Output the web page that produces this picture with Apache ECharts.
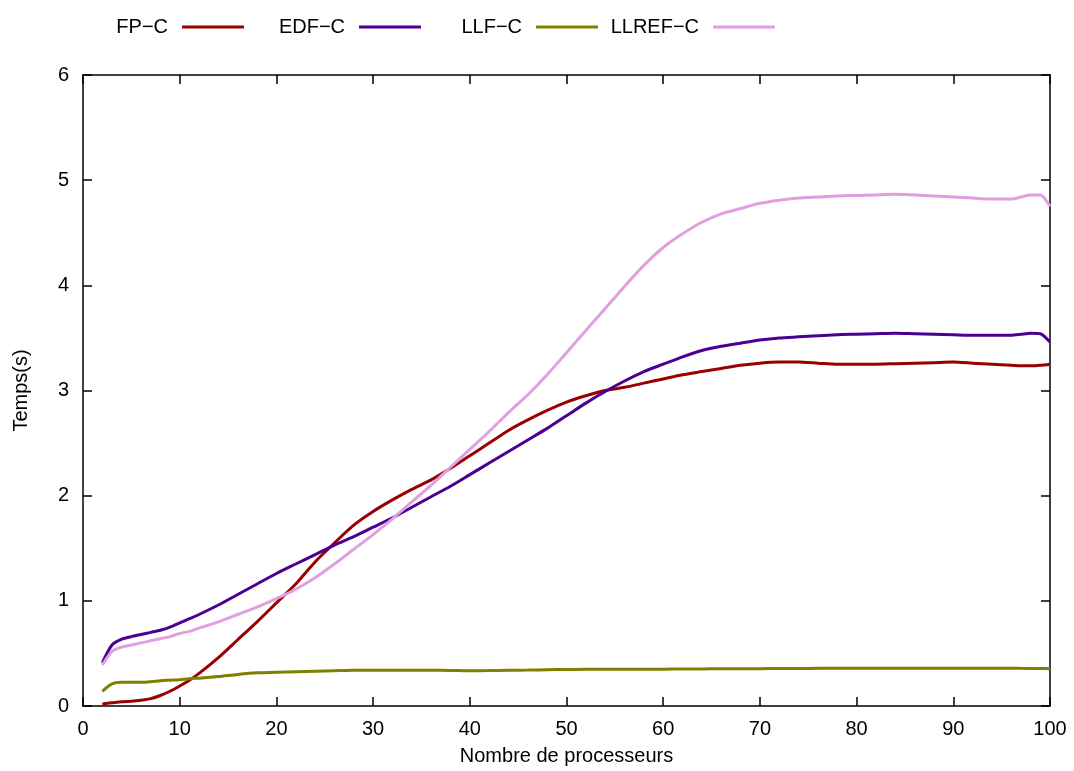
<!DOCTYPE html>
<html>
<head>
<meta charset="utf-8">
<script src="https://cdn.jsdelivr.net/npm/echarts@6/dist/echarts.min.js"></script>
<style>html,body{margin:0;padding:0;background:#fff;}#c{width:1074px;height:771px;}</style>
</head>
<body>
<div id="c"></div>
<script>
const procs = [2,3,4,5,6,7,8,9,10,11,12,14,16,18,20,22,24,26,28,30,32,34,36,38,40,42,44,46,48,50,52,54,56,58,60,62,64,66,68,70,72,74,76,78,80,82,84,86,88,90,92,94,96,97,98,99,100];
const fpC = [0.02,0.03,0.04,0.045,0.055,0.07,0.10,0.14,0.19,0.245,0.31,0.46,0.63,0.80,0.98,1.16,1.37,1.55,1.72,1.85,1.96,2.06,2.15,2.26,2.38,2.50,2.62,2.72,2.81,2.89,2.95,3.00,3.03,3.07,3.11,3.15,3.18,3.21,3.24,3.26,3.27,3.27,3.26,3.25,3.25,3.25,3.255,3.26,3.265,3.27,3.26,3.25,3.24,3.235,3.235,3.24,3.25];
const edfC = [0.41,0.58,0.635,0.66,0.68,0.70,0.72,0.75,0.79,0.83,0.87,0.96,1.06,1.16,1.26,1.35,1.44,1.53,1.61,1.70,1.79,1.89,1.99,2.09,2.20,2.31,2.42,2.53,2.64,2.76,2.88,2.99,3.09,3.18,3.25,3.32,3.38,3.42,3.45,3.48,3.50,3.51,3.52,3.53,3.535,3.54,3.545,3.54,3.535,3.53,3.525,3.525,3.525,3.535,3.545,3.54,3.46];
const llfC = [0.14,0.21,0.225,0.225,0.225,0.23,0.24,0.245,0.25,0.26,0.265,0.28,0.30,0.315,0.32,0.325,0.33,0.335,0.34,0.34,0.34,0.34,0.34,0.338,0.335,0.337,0.34,0.342,0.345,0.347,0.35,0.35,0.35,0.35,0.35,0.352,0.353,0.354,0.355,0.355,0.356,0.357,0.358,0.359,0.36,0.36,0.36,0.36,0.36,0.36,0.36,0.36,0.36,0.358,0.357,0.356,0.355];
const llrefC = [0.39,0.52,0.56,0.58,0.60,0.62,0.64,0.66,0.69,0.71,0.74,0.80,0.87,0.94,1.02,1.11,1.22,1.35,1.49,1.63,1.78,1.94,2.10,2.27,2.44,2.61,2.79,2.96,3.15,3.36,3.57,3.78,3.99,4.19,4.36,4.49,4.60,4.68,4.73,4.78,4.81,4.83,4.84,4.85,4.855,4.86,4.865,4.86,4.85,4.84,4.83,4.82,4.82,4.84,4.86,4.86,4.75];
const seriesNames = ['FP\u2212C','EDF\u2212C','LLF\u2212C','LLREF\u2212C'];
const seriesColors = ['#990000','#4b0092','#808000','#e0a0e0'];
const xTicks = {min:0, max:100, interval:10};
const yTicks = {min:0, max:6, interval:1};

const FONT = 'Liberation Sans, Arial, sans-serif';
const allData = [fpC, edfC, llfC, llrefC];
const legendRight = [825, 648, 471, 294];

const axisLine = {show:true, onZero:false, lineStyle:{color:'#000', width:1.5}};
const tick = {show:true, inside:true, length:9, lineStyle:{color:'#000', width:1.5}};

const option = {
  animation:false,
  backgroundColor:'#fff',
  textStyle:{fontFamily:FONT},
  grid:{left:83, right:24, top:75, bottom:63, containLabel:false},
  legend: seriesNames.map((n,i)=>({
    data:[n], right:legendRight[i], top:12, orient:'horizontal', align:'right',
    icon:'rect', itemWidth:62, itemHeight:3,
    textStyle:{fontFamily:FONT, fontSize:20, color:'#000', padding:[0,9,0,0]},
    selectedMode:false
  })),
  xAxis:[
    {type:'value', min:xTicks.min, max:xTicks.max, interval:xTicks.interval, position:'bottom',
     name:'Nombre de processeurs', nameLocation:'middle', nameGap:40,
     nameTextStyle:{fontFamily:FONT, fontSize:20, color:'#000'},
     axisLine:axisLine, axisTick:tick, splitLine:{show:false},
     axisLabel:{fontFamily:FONT, fontSize:20, color:'#000', margin:13}},
    {type:'value', min:xTicks.min, max:xTicks.max, interval:xTicks.interval, position:'top',
     axisLine:axisLine, axisTick:tick, splitLine:{show:false}, axisLabel:{show:false}}
  ],
  yAxis:[
    {type:'value', min:yTicks.min, max:yTicks.max, interval:yTicks.interval, position:'left',
     name:'Temps(s)', nameLocation:'middle', nameGap:52,
     nameTextStyle:{fontFamily:FONT, fontSize:20, color:'#000'},
     axisLine:axisLine, axisTick:tick, splitLine:{show:false},
     axisLabel:{fontFamily:FONT, fontSize:20, color:'#000', margin:14}},
    {type:'value', min:yTicks.min, max:yTicks.max, interval:yTicks.interval, position:'right',
     axisLine:axisLine, axisTick:tick, splitLine:{show:false}, axisLabel:{show:false}}
  ],
  series: seriesNames.map((n,i)=>({
    name:n, type:'line', xAxisIndex:0, yAxisIndex:0,
    data: procs.map((p,k)=>[p, allData[i][k]]),
    showSymbol:false, symbol:'none', smooth:0.25,
    lineStyle:{color:seriesColors[i], width:3},
    itemStyle:{color:seriesColors[i]},
    z: 2
  }))
};
const chart = echarts.init(document.getElementById('c'), null, {renderer:'canvas'});
chart.setOption(option);
</script>
</body>
</html>
